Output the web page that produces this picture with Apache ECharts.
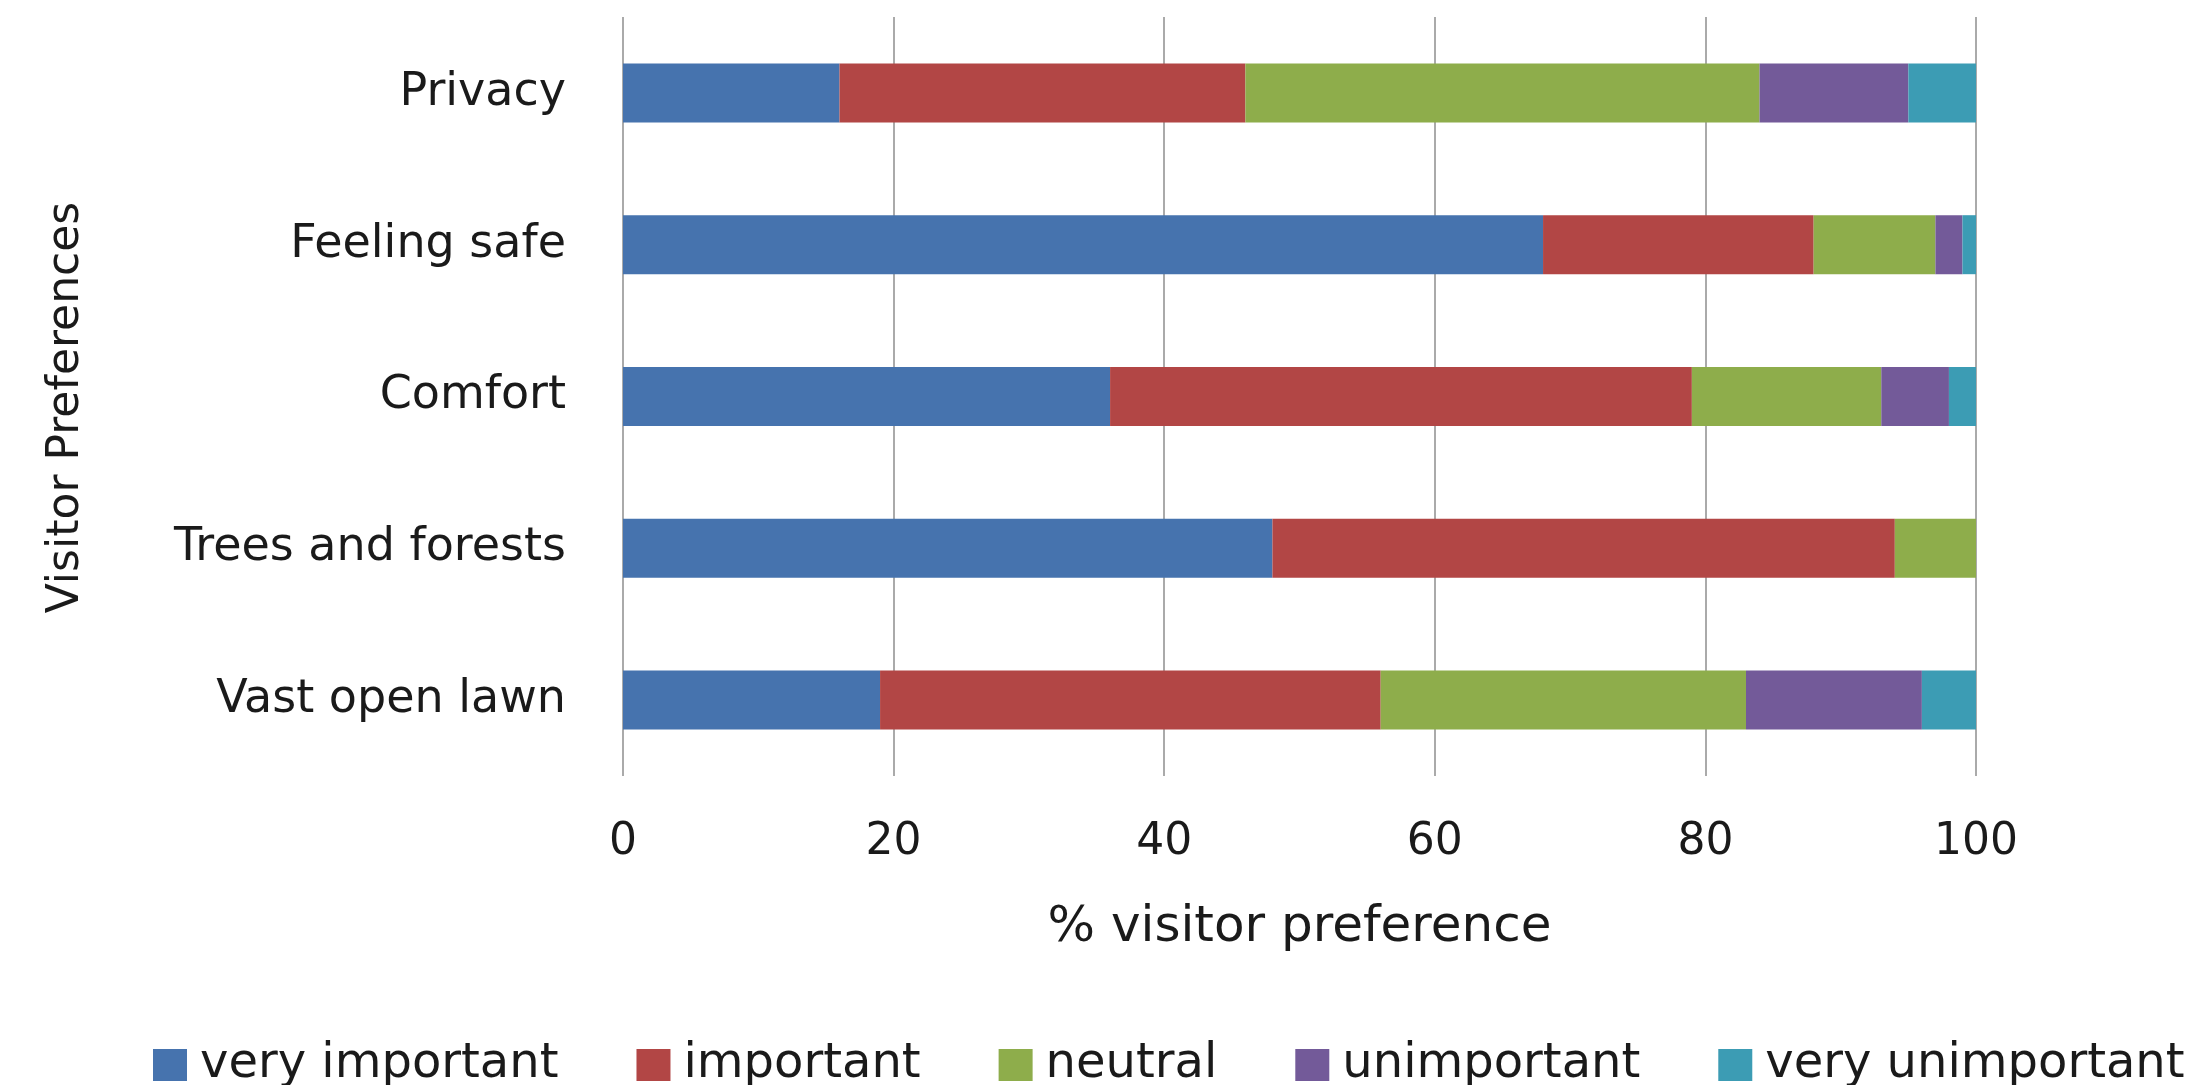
<!DOCTYPE html>
<html>
<head>
<meta charset="utf-8">
<script src="https://cdn.jsdelivr.net/npm/echarts@6/dist/echarts.min.js"></script>
<style>
    html, body { margin: 0; padding: 0; background: #fff; }
    #chart { width: 2202px; height: 1085px; }
</style>
</head>
<body>
<div id="chart"></div>
<script>
// categories from bottom to top
const categories = ['Vast open lawn', 'Trees and forests', 'Comfort', 'Feeling safe', 'Privacy'];
const veryImportant = [19, 48, 36, 68, 16];
const important = [37, 46, 43, 20, 30];
const neutral = [27, 6, 14, 9, 38];
const unimportant = [13, 0, 5, 2, 11];
const veryUnimportant = [4, 0, 2, 1, 5];
const xTicks = [0, 20, 40, 60, 80, 100];

const seriesNames = ['very important', 'important', 'neutral', 'unimportant', 'very unimportant'];
const seriesData = [veryImportant, important, neutral, unimportant, veryUnimportant];
const colors = ['#4673AE', '#B24645', '#8EAD4B', '#735A99', '#3C9CB4'];

const font = 'DejaVu Sans';

let myChart = echarts.init(document.getElementById('chart'));

let option = {
    animation: false,
    color: colors,
    textStyle: {fontFamily: font, color: '#1a1a1a'},
    grid: {left: 623, right: 226, top: 17, bottom: 309},
    legend: {
        left: 148,
        top: 1036,
        itemWidth: 34,
        itemHeight: 32,
        itemGap: 78,
        icon: 'rect',
        textStyle: {fontFamily: font, fontSize: 48, color: '#1a1a1a', padding: [0, 0, 0, 8]},
        data: seriesNames
    },
    xAxis: {
        type: 'value',
        min: xTicks[0],
        max: xTicks[xTicks.length - 1],
        interval: xTicks[1] - xTicks[0],
        axisLine: {show: false},
        axisTick: {show: false},
        axisLabel: {fontSize: 44, color: '#1a1a1a', margin: 45},
        splitLine: {show: true, lineStyle: {color: '#aaaaaa', width: 2}},
        name: '% visitor preference',
        nameLocation: 'middle',
        nameGap: 127,
        nameTextStyle: {fontSize: 50, color: '#1a1a1a'}
    },
    yAxis: {
        type: 'category',
        data: categories,
        axisLine: {show: false},
        axisTick: {show: false},
        axisLabel: {fontSize: 46, color: '#1a1a1a', margin: 57},
        name: 'Visitor Preferences',
        nameLocation: 'middle',
        nameGap: 534,
        nameRotate: 90,
        // shift the rotated title slightly down
        nameTextStyle: {fontSize: 44, color: '#1a1a1a', padding: [0, 22, 0, 0]}
    },
    // one stacked bar series per preference level
    series: seriesNames.map((name, i) => ({
        name: name,
        type: 'bar',
        stack: 'total',
        barWidth: 59,
        data: seriesData[i]
    }))
};

myChart.setOption(option);
</script>
</body>
</html>
